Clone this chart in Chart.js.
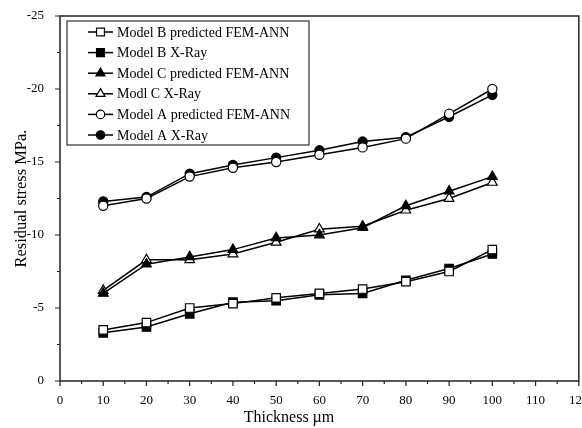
<!DOCTYPE html>
<html>
<head>
<meta charset="utf-8">
<script src="https://cdn.jsdelivr.net/npm/chart.js@4.4.0/dist/chart.umd.min.js"></script>
<style>
  html, body { margin: 0; padding: 0; background: #fff; overflow: hidden; }
  #wrap { width: 582px; height: 428px; overflow: hidden; }
  canvas { display: block; }
</style>
</head>
<body>
<div id="wrap"><canvas id="chart" width="586" height="428"></canvas></div>
<script>
const thickness = [10, 20, 30, 40, 50, 60, 70, 80, 90, 100];
const modelBPred = [-3.5, -4.0, -5.0, -5.3, -5.7, -6.0, -6.3, -6.8, -7.5, -9.0];
const modelBXray = [-3.3, -3.7, -4.6, -5.4, -5.5, -5.9, -6.0, -6.9, -7.7, -8.7];
const modelCPred = [-6.0, -8.0, -8.5, -9.0, -9.8, -10.0, -10.5, -12.0, -13.0, -14.0];
const modelCXray = [-6.2, -8.3, -8.3, -8.7, -9.5, -10.4, -10.6, -11.7, -12.5, -13.6];
const modelAPred = [-12.0, -12.5, -14.0, -14.6, -15.0, -15.5, -16.0, -16.6, -18.3, -20.0];
const modelAXray = [-12.3, -12.6, -14.2, -14.8, -15.3, -15.8, -16.4, -16.7, -18.1, -19.6];
const seriesNames = [
    "Model B predicted FEM-ANN",
    "Model B X-Ray",
    "Model C predicted FEM-ANN",
    "Modl C X-Ray",
    "Model A predicted FEM-ANN",
    "Model A X-Ray"
];
const xTitle = "Thickness \u00b5m";
const FONT = "'Liberation Serif', 'Times New Roman', serif";

function makeSet(name, values, shape, filled) {
    let r = shape === "rect" ? 6 : (shape === "triangle" ? 5.6 : 4.6);
    return {
        label: name,
        data: values.map((v, i) => ({ x: thickness[i], y: v })),
        borderColor: "#000",
        borderWidth: 1.5,
        pointStyle: shape,
        pointRadius: r,
        pointHoverRadius: r,
        pointBorderWidth: 1.2,
        pointBorderColor: "#000",
        pointBackgroundColor: filled ? "#000" : "#fff",
        tension: 0
    };
}

// boxed legend inside the plot, top left
const boxLegend = {
    id: "boxLegend",
    afterDatasetsDraw(chart) {
        let ctx = chart.ctx;
        let area = chart.chartArea;
        let x0 = area.left + 7, y0 = area.top + 5;
        ctx.save();
        ctx.fillStyle = "#fff";
        ctx.fillRect(x0, y0, 242, 124);
        ctx.strokeStyle = "#333";
        ctx.lineWidth = 1.2;
        ctx.strokeRect(x0, y0, 242, 124);
        ctx.font = "14px " + FONT;
        ctx.textBaseline = "middle";
        chart.data.datasets.forEach(function (ds, i) {
            let y = y0 + 11 + i * 20.6;
            ctx.strokeStyle = "#000";
            ctx.lineWidth = 1.5;
            ctx.beginPath();
            ctx.moveTo(x0 + 21, y);
            ctx.lineTo(x0 + 46, y);
            ctx.stroke();
            ctx.fillStyle = ds.pointBackgroundColor;
            ctx.strokeStyle = "#000";
            ctx.lineWidth = 1.2;
            Chart.helpers.drawPoint(ctx, {
                pointStyle: ds.pointStyle,
                radius: ds.pointRadius - 0.4,
                rotation: 0,
                borderWidth: 1.2
            }, x0 + 33.5, y);
            ctx.fillStyle = "#000";
            ctx.fillText(ds.label, x0 + 50, y + 1);
        });
        ctx.restore();
    }
};

// frame, outward major/minor ticks and the x title (centred on the page like the original)
const frameTicks = {
    id: "frameTicks",
    afterDraw(chart) {
        let ctx = chart.ctx;
        let area = chart.chartArea;
        let xs = chart.scales.x, ys = chart.scales.y;
        ctx.save();
        ctx.strokeStyle = "#222";
        ctx.lineWidth = 1.5;
        ctx.strokeRect(area.left, area.top, area.right - area.left, area.bottom - area.top);
        ctx.lineWidth = 1.2;
        ctx.beginPath();
        for (let v = 0; v <= 120; v += 5) {
            let px = xs.getPixelForValue(v);
            let len = v % 10 === 0 ? 5 : 3;
            ctx.moveTo(px, area.bottom);
            ctx.lineTo(px, area.bottom + len);
        }
        for (let v = 0; v >= -25; v -= 2.5) {
            let py = ys.getPixelForValue(v);
            let len = v % 5 === 0 ? 5 : 3;
            ctx.moveTo(area.left, py);
            ctx.lineTo(area.left - len, py);
        }
        ctx.stroke();
        ctx.fillStyle = "#000";
        ctx.font = "16px " + FONT;
        ctx.textAlign = "center";
        ctx.textBaseline = "middle";
        ctx.fillText(xTitle, 289, 418);
        ctx.restore();
    }
};

new Chart(document.getElementById("chart"), {
    type: "line",
    data: {
        datasets: [
            makeSet(seriesNames[0], modelBPred, "rect", false),
            makeSet(seriesNames[1], modelBXray, "rect", true),
            makeSet(seriesNames[2], modelCPred, "triangle", true),
            makeSet(seriesNames[3], modelCXray, "triangle", false),
            makeSet(seriesNames[4], modelAPred, "circle", false),
            makeSet(seriesNames[5], modelAXray, "circle", true)
        ]
    },
    options: {
        responsive: false,
        animation: false,
        layout: { padding: { top: 16, right: 0, left: 0, bottom: 0 } },
        plugins: {
            legend: { display: false },
            tooltip: { enabled: false }
        },
        scales: {
            x: {
                type: "linear",
                min: 0,
                max: 120,
                grid: { display: false },
                border: { display: false },
                ticks: {
                    stepSize: 10,
                    color: "#000",
                    padding: 4,
                    maxRotation: 0,
                    autoSkip: false,
                    font: { family: FONT, size: 13 }
                },
                afterFit(scale) {
                    scale.height = 47;
                    scale.paddingRight = 0;
                    scale.paddingLeft = 0;
                }
            },
            y: {
                min: -25,
                max: 0,
                reverse: true,
                grid: { display: false },
                border: { display: false },
                ticks: {
                    stepSize: 5,
                    color: "#000",
                    padding: 8,
                    font: { family: FONT, size: 13 }
                },
                title: {
                    display: true,
                    text: "Residual stress MPa.",
                    color: "#000",
                    padding: { top: 12, bottom: 0 },
                    font: { family: FONT, size: 16.5 }
                },
                afterFit(scale) {
                    scale.width = 60;
                    scale.paddingTop = 0;
                    scale.paddingBottom = 0;
                }
            }
        }
    },
    plugins: [boxLegend, frameTicks]
});
</script>
</body>
</html>
